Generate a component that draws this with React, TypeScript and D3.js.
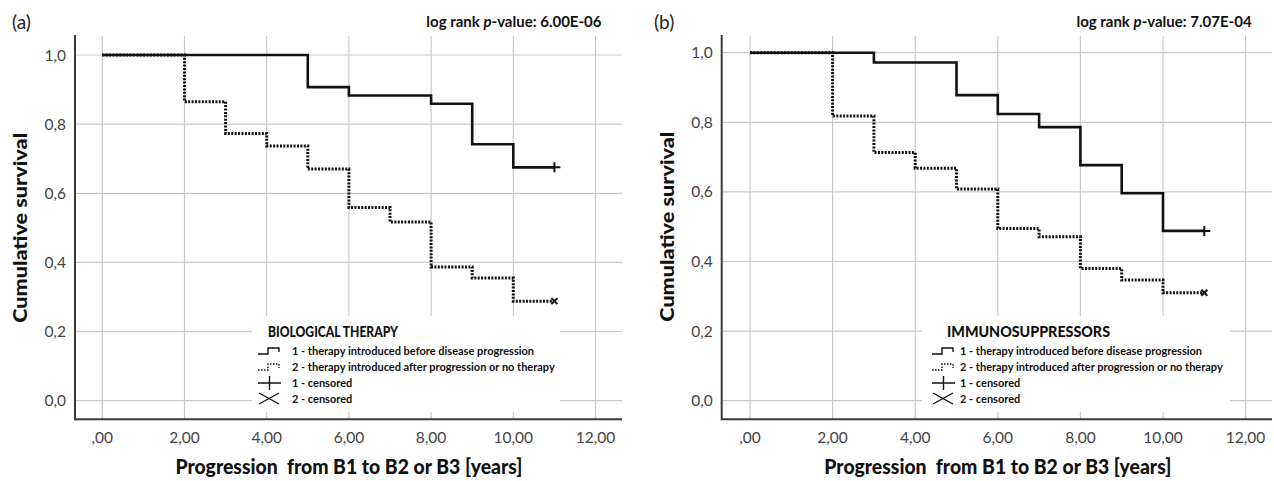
import React from 'react';
import * as d3 from 'd3';

// tick values and labels (comma decimals, as in the source)
const xTicks = [0, 2, 4, 6, 8, 10, 12];
const xTickLabels = [',00', '2,00', '4,00', '6,00', '8,00', '10,00', '12,00'];
const yTicks = [0, 0.2, 0.4, 0.6, 0.8, 1.0];
const yTickLabels = ['0,0', '0,2', '0,4', '0,6', '0,8', '1,0'];

// (a) biological therapy
const bioTimes1 = [0, 5, 6, 8, 9, 10, 11];
const bioSurv1 = [1, 0.907, 0.883, 0.859, 0.742, 0.675, 0.675];
const bioTimes2 = [0, 2, 3, 4, 5, 6, 7, 8, 9, 10, 11];
const bioSurv2 = [1, 0.865, 0.773, 0.737, 0.67, 0.559, 0.517, 0.387, 0.355, 0.288, 0.288];

// (b) immunosuppressors
const immTimes1 = [0, 3, 5, 6, 7, 8, 9, 10, 11];
const immSurv1 = [1, 0.972, 0.878, 0.824, 0.786, 0.677, 0.596, 0.488, 0.488];
const immTimes2 = [0, 2, 3, 4, 5, 6, 7, 8, 9, 10, 11];
const immSurv2 = [1, 0.818, 0.713, 0.668, 0.608, 0.495, 0.471, 0.38, 0.347, 0.31, 0.31];

const legendLabels = [
  '1 - therapy introduced before disease progression',
  '2 - therapy introduced after progression or no therapy',
  '1 - censored',
  '2 - censored',
];

const FONT = 'Lato, "Open Sans", sans-serif';
const GRID = '#c9c9c9';
const AXIS = '#3a3a3a';

type PanelProps = {
  tag: string;
  pValue: string;
  legendTitle: string;
  legendTitleWidth: number;
  times1: number[];
  surv1: number[];
  times2: number[];
  surv2: number[];
  left: number;
  right: number;
  x0: number;
  x12: number;
  y0: number;
  y1: number;
  labelX: number;
  box: { x: number; w: number; titleX: number; symX: number; textX: number };
};

const Panel = (p: PanelProps) => {
  const top = 35;
  const bottom = 419.3;
  const kx = (p.x12 - p.x0) / 12;
  const ky = (p.y0 - p.y1);
  const x = d3.scaleLinear()
    .domain([(p.left - p.x0) / kx, (p.right - p.x0) / kx])
    .range([p.left, p.right]);
  const y = d3.scaleLinear()
    .domain([(p.y0 - bottom) / ky, (p.y0 - top) / ky])
    .range([bottom, top]);

  const line = d3.line<[number, number]>()
    .x(d => x(d[0]))
    .y(d => y(d[1]))
    .curve(d3.curveStepAfter);

  const pts1 = p.times1.map((t, i) => [t, p.surv1[i]] as [number, number]);
  const pts2 = p.times2.map((t, i) => [t, p.surv2[i]] as [number, number]);
  const last1 = pts1[pts1.length - 1];
  const last2 = pts2[pts2.length - 1];
  const cx1 = x(last1[0]), cy1 = y(last1[1]);
  const cx2 = x(last2[0]), cy2 = y(last2[1]);

  const midX = (x(0) + x(12)) / 2;
  const midY = (y(0) + y(1)) / 2;
  const b = p.box;
  const ly = [351, 367, 383, 399];

  return (
    <g fontFamily={FONT}>
      <text x={p.labelX} y={29} fontSize={19} fill="#222">{p.tag}</text>
      <text x={x(12) + 6} y={27} fontSize={15} fontWeight="bold" textAnchor="end" fill="#111">
        log rank <tspan fontStyle="italic">p</tspan>-value: {p.pValue}
      </text>

      {/* grid */}
      {yTicks.map(t => (
        <line key={'gy' + t} x1={p.left} x2={p.right} y1={y(t)} y2={y(t)} stroke={GRID} strokeWidth={1.2} />
      ))}
      {xTicks.map(t => (
        <line key={'gx' + t} x1={x(t)} x2={x(t)} y1={top + 1} y2={bottom} stroke={GRID} strokeWidth={1.2} />
      ))}

      {/* legend box */}
      <rect x={b.x} y={316} width={b.w} height={96} fill="#fff" />
      <text x={b.titleX} y={337} fontSize={15.5} fontWeight="900" fill="#111"
        textLength={p.legendTitleWidth} lengthAdjust="spacingAndGlyphs">{p.legendTitle}</text>
      <path d={`M${b.symX},${ly[0] + 3}h10v-6h11v4`} fill="none" stroke="#111" strokeWidth={1.4} />
      <path d={`M${b.symX},${ly[1] + 3}h10v-6h11v4`} fill="none" stroke="#111" strokeWidth={1.4} strokeDasharray="1.5,1.5" />
      <path d={`M${b.symX},${ly[2]}h23M${b.symX + 11.5},${ly[2] - 7}v14`} fill="none" stroke="#111" strokeWidth={1.4} />
      <path d={`M${b.symX + 1},${ly[3] - 6}L${b.symX + 21},${ly[3] + 5}M${b.symX + 1},${ly[3] + 5}L${b.symX + 21},${ly[3] - 6}`} fill="none" stroke="#111" strokeWidth={1.4} />
      {legendLabels.map((s, i) => (
        <text key={s} x={b.textX} y={ly[i] + 4} fontSize={11} fontWeight="bold" fill="#111">{s}</text>
      ))}

      {/* curves */}
      <path d={line(pts2) || ''} fill="none" stroke="#111" strokeWidth={3} strokeDasharray="2,1.4" />
      <path d={line(pts1) || ''} fill="none" stroke="#111" strokeWidth={2.6} />
      <path d={`M${cx1 - 2},${cy1}h8M${cx1},${cy1 - 5}v10`} stroke="#111" strokeWidth={2} />
      <path d={`M${cx2 - 3},${cy2 - 3}l6,6M${cx2 - 3},${cy2 + 3}l6,-6`} stroke="#111" strokeWidth={2} />

      {/* axes */}
      <line x1={p.left} x2={p.left} y1={top} y2={bottom + 1} stroke={AXIS} strokeWidth={2} />
      <line x1={p.left} x2={p.right} y1={bottom} y2={bottom} stroke={AXIS} strokeWidth={2} />
      {yTicks.map((t, i) => (
        <text key={'ty' + t} x={p.left - 9} y={y(t) + 5.5} fontSize={15.5} textAnchor="end" fill="#444">{yTickLabels[i]}</text>
      ))}
      {xTicks.map((t, i) => (
        <text key={'tx' + t} x={x(t)} y={443} fontSize={15.5} textAnchor="middle" fill="#444">{xTickLabels[i]}</text>
      ))}

      <text transform={`translate(${p.left - 48},${midY}) rotate(-90)`} fontSize={19.5} fontWeight="900"
        textAnchor="middle" fill="#111" textLength={190} lengthAdjust="spacingAndGlyphs">Cumulative survival</text>
      <text x={midX} y={474} fontSize={20} fontWeight="900" textAnchor="middle" fill="#111"
        textLength={347} lengthAdjust="spacingAndGlyphs" style={{ whiteSpace: 'pre' }}>
        {'Progression  from B1 to B2 or B3 [years]'}
      </text>
    </g>
  );
};

export default function App() {
  return (
    <svg width={1274} height={481} style={{ position: 'absolute', left: 0, top: 0, background: '#fff' }}>
      <rect width={1274} height={481} fill="#fff" />
      <Panel tag="(a)" pValue="6.00E-06" legendTitle="BIOLOGICAL THERAPY" legendTitleWidth={130}
        times1={bioTimes1} surv1={bioSurv1} times2={bioTimes2} surv2={bioSurv2}
        left={75} right={622} x0={102.3} x12={595.5} y0={400.7} y1={55}
        labelX={12}
        box={{ x: 252, w: 308, titleX: 268, symX: 258, textX: 292 }} />
      <Panel tag="(b)" pValue="7.07E-04" legendTitle="IMMUNOSUPPRESSORS" legendTitleWidth={163}
        times1={immTimes1} surv1={immSurv1} times2={immTimes2} surv2={immSurv2}
        left={721.7} right={1272} x0={750} x12={1245.6} y0={400.7} y1={52.7}
        labelX={654}
        box={{ x: 922, w: 308, titleX: 947, symX: 932, textX: 960 }} />
    </svg>
  );
}
